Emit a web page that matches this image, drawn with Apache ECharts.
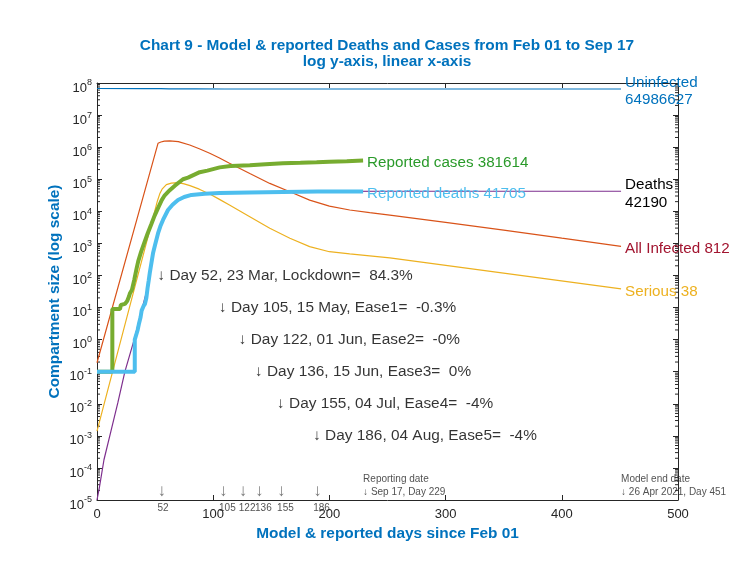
<!DOCTYPE html>
<html><head><meta charset="utf-8">
<script src="https://cdn.jsdelivr.net/npm/echarts@6/dist/echarts.min.js"></script>
<style>html,body{margin:0;padding:0;background:#fff}#c{width:750px;height:562px}</style>
</head><body><div id="c"></div>
<script>
// ---------------- data ----------------
const uninfDays = [0, 40, 48, 55, 62, 70, 85, 110, 150, 229, 451];
const uninfVals = [67.3e6, 67.25e6, 67.0e6, 66.4e6, 65.8e6, 65.4e6, 65.15e6, 65.03e6, 64.995e6, 64.99e6, 64986627];

const infDays = [0, 52.5, 55, 58, 62.6, 70, 79.8, 88, 97, 105, 114, 131.5, 148.7, 166, 183, 200, 217.5, 234.7, 252, 300, 350, 400, 451];
const infVals = [0.19, 1.32e6, 1.45e6, 1.55e6, 1.58e6, 1.48e6, 1.17e6, 8.9e5, 6.46e5, 4.7e5, 3.16e5, 1.51e5, 7.4e4, 4.07e4, 2.24e4, 1.45e4, 1.10e4, 9.1e3, 7.6e3, 4.5e3, 2.6e3, 1.45e3, 812];

const serDays = [0, 52, 54, 56, 59.7, 64, 69.7, 75, 80, 88, 92.7, 97, 105, 114, 131.5, 148.7, 166, 183, 200, 217.5, 234.7, 252, 451];
const serVals = [1.4e-3, 2.1e4, 3.5e4, 4.9e4, 6.8e4, 7.6e4, 7.8e4, 7.2e4, 6.3e4, 4.9e4, 4.07e4, 3.47e4, 2.4e4, 1.58e4, 6.8e3, 2.95e3, 1.45e3, 794, 550, 468, 407, 355, 38];

const deathDays = [0, 2, 6, 12, 18, 24, 32, 39, 42.5, 45.4, 48.2, 52.5, 56.8, 61.1, 69.7, 81.3, 92.7, 105.6, 131, 160, 200, 250, 451];
const deathVals = [1e-5, 2.4e-5, 1.8e-4, 1.4e-3, 0.011, 0.1, 1, 10, 30, 118, 490, 2040, 5400, 11000, 22400, 32600, 36000, 38000, 40200, 41500, 42000, 42150, 42190];

const casesDays = [0, 13.2, 13.2, 19.8, 20.5, 24, 26, 27.5, 28.4, 30, 32, 34, 35.5, 38, 40.5, 43.5, 46.8, 49.5, 52.5, 55.7, 58.3, 62.6, 67, 74, 78.3, 88.4, 95, 105.6, 115, 131.5, 145, 160, 175, 189, 200, 215, 229];
const casesVals = [0.1, 0.1, 9, 9, 12, 13, 16, 22, 28, 35, 71, 160, 280, 550, 1000, 2000, 4000, 7200, 12600, 22400, 31600, 45700, 63000, 100000, 112000, 166000, 186000, 234000, 257000, 275000, 295000, 316000, 327000, 339000, 351000, 363000, 381614];

const repDeathDays = [0, 32.5, 32.5, 34, 35, 36, 37.5, 38.4, 40, 41.3, 42.5, 43.5, 44.5, 45.4, 48.2, 50, 52.5, 54.5, 56.8, 61.1, 65, 69.7, 75, 81.3, 92.7, 105.6, 131, 160, 190, 229];
const repDeathVals = [0.1, 0.1, 1, 1, 2, 3, 5, 8, 11, 13, 20, 40, 70, 118, 490, 900, 2040, 3400, 5400, 11000, 16000, 22400, 28000, 32400, 35500, 37200, 38900, 40300, 41200, 41705];

const annDays = [52, 105, 122, 136, 155, 186];
const annLevels = [1e2, 1e1, 1e0, 1e-1, 1e-2, 1e-3];
const annTexts = [
  '\u2193 Day 52, 23 Mar, Lockdown=  84.3%',
  '\u2193 Day 105, 15 May, Ease1=  -0.3%',
  '\u2193 Day 122, 01 Jun, Ease2=  -0%',
  '\u2193 Day 136, 15 Jun, Ease3=  0%',
  '\u2193 Day 155, 04 Jul, Ease4=  -4%',
  '\u2193 Day 186, 04 Aug, Ease5=  -4%'
];
const markDays = [52, 105, 122, 136, 155, 186];
const dateDays = [229, 451];
const dateTexts = ['Reporting date\n\u2193 Sep 17, Day 229', 'Model end date\n\u2193 26 Apr 2021, Day 451'];

const xTicks = [0, 100, 200, 300, 400, 500];
const minorMult = [2, 3, 4, 5, 6, 7, 8, 9];
const yExpMin = -5, yExpMax = 8;

// ---------------- chart ----------------
const F = '"Liberation Sans", Arial, Helvetica, sans-serif';
const AX = '#262626';
const FS = 15.4;
const pair = (d, v) => d.map((x, i) => [x, v[i]]);
const last = a => a[a.length - 1];

const minorData = [];
for (let k = yExpMin; k < yExpMax; k++) for (const m of minorMult) minorData.push([0, m * Math.pow(10, k)]);

const chart = echarts.init(document.getElementById('c'));

function lineSeries(name, d, v, color, width, label, labelColor, lh) {
  return {
    type: 'line', name, data: pair(d, v), symbol: 'none', showSymbol: false,
    lineStyle: { color, width }, itemStyle: { color },
    emphasis: { disabled: true },
    endLabel: { show: true, formatter: label, color: labelColor, fontSize: 15.2, fontFamily: F, lineHeight: lh || 17, distance: 4, offset: [0, 2.5] }
  };
}

chart.setOption({
  animation: false,
  backgroundColor: '#fff',
  title: {
    text: 'Chart 9 - Model & reported Deaths and Cases from Feb 01 to Sep 17\nlog y-axis, linear x-axis',
    left: 387, top: 37, textAlign: 'center', padding: 0,
    textStyle: { color: '#0072BD', fontSize: FS, fontWeight: 'bold', fontFamily: F, lineHeight: 16.5 }
  },
  grid: { left: 97, right: 72, top: 83, bottom: 62, containLabel: false },
  xAxis: [{
    type: 'value', position: 'bottom', min: xTicks[0], max: last(xTicks), interval: 100,
    axisLine: { show: true, onZero: false, lineStyle: { color: AX, width: 1 } },
    axisTick: { show: true, inside: true, length: 5, lineStyle: { color: AX } },
    axisLabel: { color: AX, fontSize: 13, fontFamily: F, margin: 8 },
    splitLine: { show: false },
    name: 'Model & reported days since Feb 01', nameLocation: 'middle', nameGap: 21,
    nameTextStyle: { color: '#0072BD', fontWeight: 'bold', fontSize: FS, fontFamily: F }
  }, {
    type: 'value', position: 'top', min: xTicks[0], max: last(xTicks), interval: 100,
    axisLine: { show: true, onZero: false, lineStyle: { color: AX, width: 1 } },
    axisTick: { show: true, inside: true, length: 5, lineStyle: { color: AX } },
    axisLabel: { show: false }, splitLine: { show: false }
  }],
  yAxis: [{
    type: 'log', logBase: 10, min: Math.pow(10, yExpMin), max: Math.pow(10, yExpMax), interval: 1,
    position: 'left',
    axisLine: { show: true, onZero: false, lineStyle: { color: AX, width: 1 } },
    axisTick: { show: true, inside: true, length: 5, lineStyle: { color: AX } },
    axisLabel: {
      margin: 5, fontFamily: F,
      formatter: v => '{b|10}{e|' + Math.round(Math.log10(v)) + '}',
      rich: {
        b: { fontSize: 13, color: AX, fontFamily: F, padding: [10, 0, 0, 0] },
        e: { fontSize: 9, color: AX, fontFamily: F }
      }
    },
    splitLine: { show: false },
    name: 'Compartment size (log scale)', nameLocation: 'middle', nameGap: 35, nameRotate: 90,
    nameMoveOverlap: false,
    nameTextStyle: { color: '#0072BD', fontWeight: 'bold', fontSize: FS, fontFamily: F }
  }, {
    type: 'log', logBase: 10, min: Math.pow(10, yExpMin), max: Math.pow(10, yExpMax), interval: 1,
    position: 'right',
    axisLine: { show: true, onZero: false, lineStyle: { color: AX, width: 1 } },
    axisTick: { show: true, inside: true, length: 5, lineStyle: { color: AX } },
    axisLabel: { show: false }, splitLine: { show: false }
  }],
  series: [
    {
      type: 'custom', data: minorData, silent: true, clip: false,
      renderItem: (params, api) => {
        const v = api.value(1);
        const pL = api.coord([xTicks[0], v]);
        const pR = api.coord([last(xTicks), v]);
        return {
          type: 'group', children: [
            { type: 'line', shape: { x1: pL[0], y1: pL[1], x2: pL[0] + 3, y2: pL[1] }, style: { stroke: AX, lineWidth: 1 } },
            { type: 'line', shape: { x1: pR[0], y1: pR[1], x2: pR[0] - 3, y2: pR[1] }, style: { stroke: AX, lineWidth: 1 } }
          ]
        };
      }
    },
    lineSeries('Uninfected', uninfDays, uninfVals, '#0072BD', 1.2, 'Uninfected\n' + last(uninfVals), '#0072BD', 17.6),
    lineSeries('All Infected', infDays, infVals, '#D95319', 1.2, 'All Infected ' + last(infVals), '#A2142F'),
    lineSeries('Serious', serDays, serVals, '#EDB120', 1.2, 'Serious ' + last(serVals), '#EDB120'),
    lineSeries('Deaths', deathDays, deathVals, '#7E2F8E', 1.2, 'Deaths\n' + last(deathVals), '#000000', 18.5),
    lineSeries('Reported cases', casesDays, casesVals, '#77AC30', 4, 'Reported cases ' + last(casesVals), '#2A9A2A'),
    lineSeries('Reported deaths', repDeathDays, repDeathVals, '#4DBEEE', 4, 'Reported deaths ' + last(repDeathVals), '#4DBEEE'),
    {
      type: 'scatter', symbolSize: 0, clip: false, silent: true,
      data: annDays.map((d, i) => ({ value: [d, annLevels[i]], label: { formatter: annTexts[i] } })),
      label: { show: true, position: 'right', distance: 0, color: '#000', textBorderWidth: 0, fontSize: FS, fontFamily: F }
    },
    {
      type: 'scatter', symbolSize: 0, clip: false, silent: true,
      data: markDays.map(d => [d, Math.pow(10, yExpMin)]),
      label: { show: true, position: 'top', align: 'left', distance: 0, formatter: '\u2193', color: '#555555', fontSize: 17, fontFamily: F }
    },
    {
      type: 'scatter', symbolSize: 0, clip: false, silent: true,
      data: markDays.map(d => [d, Math.pow(10, yExpMin)]),
      label: { show: true, position: 'bottom', align: 'left', distance: 3, formatter: p => String(p.value[0]), color: AX, fontSize: 10, fontFamily: F }
    },
    {
      type: 'scatter', symbolSize: 0, clip: false, silent: true,
      data: dateDays.map((d, i) => ({ value: [d, Math.pow(10, yExpMin)], label: { formatter: dateTexts[i] } })),
      label: { show: true, position: 'top', align: 'left', distance: 1, color: AX, fontSize: 10, lineHeight: 13, fontFamily: F }
    }
  ]
});
</script></body></html>
